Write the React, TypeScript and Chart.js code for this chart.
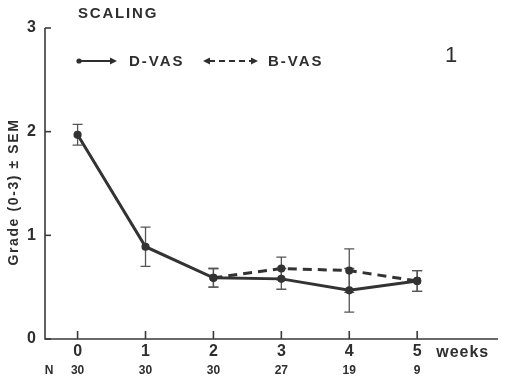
import React, { useEffect, useRef } from "react";
import { Chart, registerables } from "chart.js";

Chart.register(...registerables);

const weeks = [0, 1, 2, 3, 4, 5];
const nCounts = [30, 30, 30, 27, 19, 9];
const dvas = [1.97, 0.89, 0.59, 0.58, 0.47, 0.56];
const dvasSem = [0.1, 0.19, 0.09, 0.1, 0.21, 0.1];
const bvasWeeks = [2, 3, 4, 5];
const bvas = [0.59, 0.68, 0.66, 0.56];
const bvasSem = [0.09, 0.11, 0.21, 0.1];
const yTicks = [0, 1, 2, 3];

const INK = "#2e2e2e";
const FONT = "'Liberation Sans', Arial, sans-serif";

const decorPlugin = {
  id: "decor",
  beforeDatasetsDraw(chart: any) {
    const { ctx, scales } = chart;
    const x = scales.x;
    const y = scales.y;
    const x0 = x.left;
    const yb = y.getPixelForValue(0);
    const yt = y.getPixelForValue(3);
    ctx.save();
    ctx.strokeStyle = "#3a3a3a";
    ctx.lineWidth = 1.6;
    // axes
    ctx.beginPath();
    ctx.moveTo(x0, yt);
    ctx.lineTo(x0, yb);
    ctx.lineTo(x.right, yb);
    ctx.stroke();
    // y ticks
    ctx.fillStyle = INK;
    ctx.font = `bold 16px ${FONT}`;
    ctx.textAlign = "right";
    ctx.textBaseline = "middle";
    yTicks.forEach((v) => {
      const py = y.getPixelForValue(v);
      ctx.beginPath();
      ctx.moveTo(x0, py);
      ctx.lineTo(x0 + 6, py);
      ctx.stroke();
      ctx.fillText(String(v), 36, py);
    });
    // x ticks
    ctx.textAlign = "center";
    weeks.forEach((w, i) => {
      const px = x.getPixelForValue(w);
      ctx.beginPath();
      ctx.moveTo(px, yb);
      ctx.lineTo(px, yb - 8);
      ctx.stroke();
      ctx.font = `bold 16px ${FONT}`;
      ctx.fillText(String(w), px, yb + 13);
      ctx.font = `bold 12px ${FONT}`;
      ctx.fillText(String(nCounts[i]), px, yb + 32);
    });
    ctx.font = `bold 12px ${FONT}`;
    ctx.fillText("N", 49, yb + 32);
    ctx.textAlign = "left";
    ctx.font = `bold 16px ${FONT}`;
    (ctx as any).letterSpacing = "1px";
    ctx.fillText("weeks", x.getPixelForValue(5) + 19, yb + 14);
    (ctx as any).letterSpacing = "0px";

    // error bars
    ctx.strokeStyle = "#555";
    ctx.lineWidth = 1.3;
    const bar = (w: number, m: number, s: number) => {
      const px = x.getPixelForValue(w);
      const top = y.getPixelForValue(m + s);
      const bot = y.getPixelForValue(m - s);
      ctx.beginPath();
      ctx.moveTo(px, top);
      ctx.lineTo(px, bot);
      ctx.moveTo(px - 5, top);
      ctx.lineTo(px + 5, top);
      ctx.moveTo(px - 5, bot);
      ctx.lineTo(px + 5, bot);
      ctx.stroke();
    };
    weeks.forEach((w, i) => bar(w, dvas[i], dvasSem[i]));
    bvasWeeks.forEach((w, i) => bar(w, bvas[i], bvasSem[i]));

    // title
    ctx.fillStyle = INK;
    ctx.textAlign = "left";
    ctx.font = `bold 15px ${FONT}`;
    (ctx as any).letterSpacing = "1.8px";
    ctx.fillText("SCALING", 78, 14);
    // legend
    ctx.font = `bold 15px ${FONT}`;
    (ctx as any).letterSpacing = "2px";
    ctx.fillText("D-VAS", 129, 62);
    ctx.fillText("B-VAS", 268, 62);
    (ctx as any).letterSpacing = "0px";
    ctx.font = `22px ${FONT}`;
    ctx.fillText("1", 445, 56);

    ctx.strokeStyle = INK;
    ctx.lineWidth = 2.2;
    ctx.beginPath();
    ctx.moveTo(79, 61);
    ctx.lineTo(112, 61);
    ctx.stroke();
    ctx.setLineDash([6, 4]);
    ctx.beginPath();
    ctx.moveTo(209, 61);
    ctx.lineTo(252, 61);
    ctx.stroke();
    ctx.setLineDash([]);
    const dot = (lx: number) => {
      ctx.beginPath();
      ctx.arc(lx, 61, 2.6, 0, Math.PI * 2);
      ctx.fill();
    };
    const arrow = (lx: number, dir: number) => {
      ctx.beginPath();
      ctx.moveTo(lx + dir * 4, 61);
      ctx.lineTo(lx - dir * 3, 57.5);
      ctx.lineTo(lx - dir * 3, 64.5);
      ctx.closePath();
      ctx.fill();
    };
    dot(79);
    arrow(113, 1);
    arrow(207, -1);
    arrow(254, 1);

    // y title
    ctx.save();
    ctx.translate(14, 192);
    ctx.rotate(-Math.PI / 2);
    ctx.textAlign = "center";
    ctx.font = `bold 14px ${FONT}`;
    (ctx as any).letterSpacing = "1.6px";
    ctx.fillText("Grade (0-3) \u00b1 SEM", 0, 0);
    ctx.restore();
    ctx.restore();
  },
};

export default function App() {
  const ref = useRef<HTMLCanvasElement | null>(null);
  useEffect(() => {
    if (!ref.current) return;
    const chart = new Chart(ref.current, {
      type: "line",
      data: {
        datasets: [
          {
            label: "B-VAS",
            data: bvasWeeks.map((w, i) => ({ x: w, y: bvas[i] })),
            borderColor: "#333",
            backgroundColor: "#333",
            borderWidth: 3,
            borderDash: [9, 6],
            pointRadius: 2.6,
            tension: 0,
          },
          {
            label: "D-VAS",
            data: weeks.map((w, i) => ({ x: w, y: dvas[i] })),
            borderColor: "#333",
            backgroundColor: "#333",
            borderWidth: 3,
            pointRadius: 2.6,
            tension: 0,
          },
        ],
      },
      options: {
        responsive: false,
        animation: false,
        layout: { padding: { left: 45, top: 28, bottom: 43, right: 0 } },
        plugins: { legend: { display: false }, tooltip: { enabled: false } },
        scales: {
          x: { type: "linear", min: -0.48, max: 6.19, display: false },
          y: { type: "linear", min: 0, max: 3, display: false },
        },
      },
      plugins: [decorPlugin],
    });
    return () => chart.destroy();
  }, []);
  return (
    <div style={{ position: "fixed", left: 0, top: 0, width: 505, height: 382, background: "#fff" }}>
      <canvas ref={ref} width={505} height={382} />
    </div>
  );
}
